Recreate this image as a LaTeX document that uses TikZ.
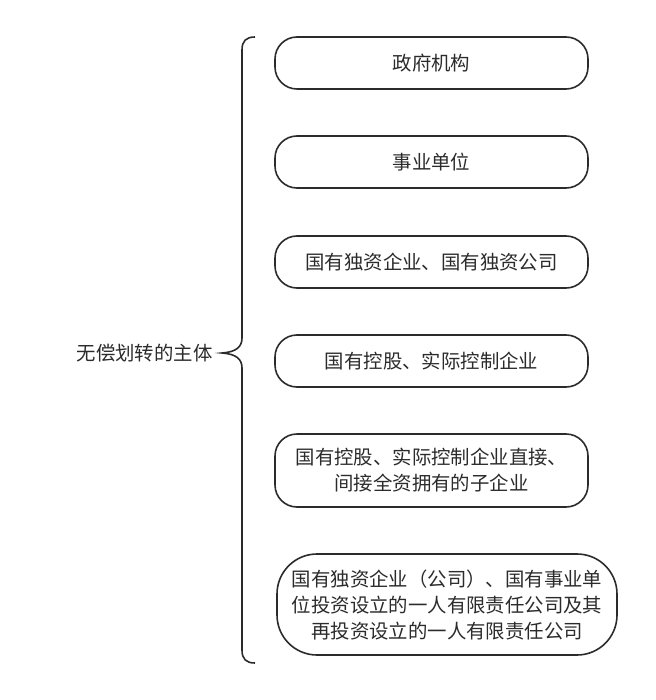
\documentclass[tikz,border=0pt]{standalone}
\usepackage{fontspec}
\newfontfamily\cjk{Noto Sans CJK SC}
\definecolor{inkgray}{HTML}{2B2B2B}
\tikzset{
  subjectbox/.style={draw=inkgray, line width=1.6pt, rounded corners=22pt,
    minimum width=313pt, minimum height=52pt, align=center, text=inkgray,
    font=\cjk\fontsize{19.4}{26}\selectfont},
  bigbox/.style={subjectbox, rounded corners=40pt, minimum width=340pt,
    minimum height=101pt}
}
\begin{document}
\begin{tikzpicture}[x=1pt,y=-1pt]
\useasboundingbox (0,0) rectangle (655,700);
% Label of the whole group
\node[text=inkgray, font=\cjk\fontsize{19.4}{26}\selectfont, anchor=east] (subject) at (216,353) {无偿划转的主体};

% Construct the brace
\draw[inkgray, line width=1.6pt] (255,37) .. controls (246,37) and (242,41) .. (242,50)
  -- (242,338) .. controls (242,347) and (236,352) .. (222,353)
  .. controls (236,354) and (242,359) .. (242,368)
  -- (242,650) .. controls (242,659) and (246,663) .. (255,663);

% Construct the boxes
\node[subjectbox] (govt) at (431.5,63) {政府机构};
\node[subjectbox] (inst) at (431.5,162) {事业单位};
\node[subjectbox] (sole) at (431.5,262) {国有独资企业、国有独资公司};
\node[subjectbox] (ctrl) at (431.5,361) {国有控股、实际控制企业};
\node[subjectbox, minimum height=73pt] (sub) at (431.5,470.5) {国有控股、实际控制企业直接、\\间接全资拥有的子企业};
\node[bigbox] (llc) at (447,604.5) {国有独资企业（公司）、国有事业单\\位投资设立的一人有限责任公司及其\\再投资设立的一人有限责任公司};
\end{tikzpicture}
\end{document}
